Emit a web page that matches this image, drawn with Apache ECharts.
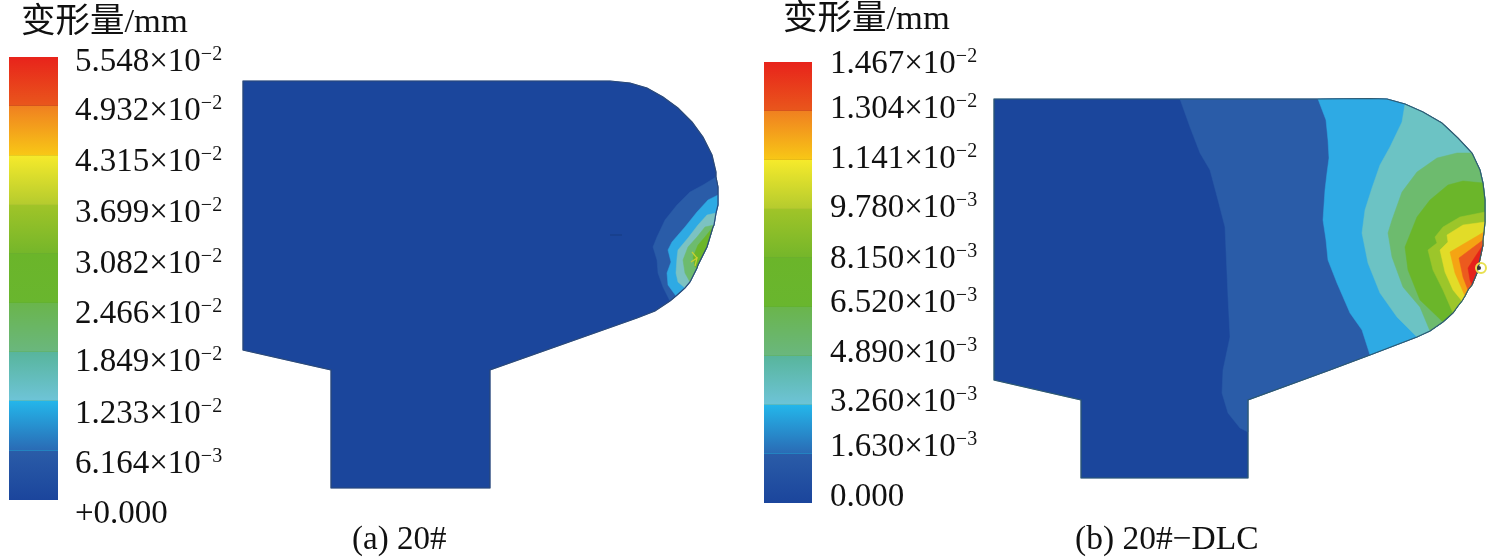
<!DOCTYPE html>
<html><head><meta charset="utf-8">
<style>html,body{margin:0;padding:0;background:#fff}#c{width:1500px;height:559px;filter:blur(0.5px)}</style>
<script src="https://cdn.jsdelivr.net/npm/echarts@6/dist/echarts.min.js"></script>
</head><body><div id="c"></div>
<script>
const FONT='"Liberation Serif","Noto Sans CJK SC",serif';
const titleText='变形量/mm';
const ticksA=['5.548×10|−2','4.932×10|−2','4.315×10|−2','3.699×10|−2','3.082×10|−2','2.466×10|−2','1.849×10|−2','1.233×10|−2','6.164×10|−3','+0.000'];
const ticksB=['1.467×10|−2','1.304×10|−2','1.141×10|−2','9.780×10|−3','8.150×10|−3','6.520×10|−3','4.890×10|−3','3.260×10|−3','1.630×10|−3','0.000'];
const tickYA=[62,111,162,213,264,314,362,414,464,514];
const tickYB=[64,109,159,208,259,303,353,402,447,497];
const bandColors=[['#e8231b','#e9571c'],['#f08020','#f8c816'],['#f6ea2b','#b4cb2e'],['#a0c428','#74b62a'],['#6bb52a','#69b62e'],['#6ab54c','#6ab77e'],['#58b59c','#6ec4d8'],['#24b6ea','#2a6ab4'],['#2a5ca8','#1b459c']];
const bandLineColors=['#c4501e','#d8b018','#a8c030','#62aa30','#5fae30','#5aae60','#4ab0a8','#1c9ccc','#2a55a0'];
const barYA=[57,106,155.5,205,254,303,352,401,451,500];
const barYB=[62,111,160,209,258,307,356,405,454,503];
const barXA=[9,58];
const barXB=[764,812];
const outlineA=[[243,81],[610,81],[630,83],[647,88],[663,97],[678,108],[692,122],[703,137],[712,155],[716,172],[716,177],[718,187],[718,195],[718,205],[716,213],[714,225],[713,227],[707,247],[698,265],[697,268],[690,282],[685,288],[676,296],[670,301],[655,311],[637,318],[490,370],[490,488],[331,488],[331,370],[243,350]];
const contourA1=[[716,177],[703,185],[690,192],[677,205],[665,220],[657,237],[653,247],[657,260],[658,273],[663,287],[670,301]];
const contourA2=[[718,195],[708,200],[697,212],[685,227],[672,242],[668,250],[671,262],[667,273],[668,285],[676,296]];
const contourA3=[[716,213],[707,215],[698,225],[688,238],[678,250],[677,258],[676,273],[678,282],[685,288]];
const contourA4=[[714,225],[705,227],[697,237],[688,247],[683,260],[685,273],[690,282]];
const contourA5=[[713,227],[705,237],[698,245],[693,257],[695,267],[697,268]];
const outlineB=[[994,99],[1180,99],[1318,99],[1370,98.5],[1387,99],[1405,104],[1423,112],[1442,123],[1458,138],[1472,153],[1480,170],[1483,183],[1485,200],[1485,212],[1485,222],[1484,232],[1483,240],[1483,245],[1477,273],[1472,285],[1468,290],[1465,296],[1462,301],[1458,306],[1453,313],[1443,322],[1430,331],[1417,337],[1370,355],[1330,370],[1248,400],[1248,432],[1248,478],[1081,478],[1081,400],[994,380]];
const contourB1=[[1180,99],[1190,127],[1200,153],[1210,170],[1218,200],[1225,227],[1228,297],[1230,337],[1223,370],[1222,393],[1228,413],[1240,428],[1248,432]];
const contourB2=[[1318,99],[1326,120],[1328,140],[1329,158],[1327,173],[1325,190],[1323,220],[1326,240],[1328,260],[1337,283],[1350,313],[1362,330],[1370,355]];
const contourB3=[[1405,104],[1402,122],[1390,147],[1380,165],[1372,188],[1365,210],[1362,233],[1368,263],[1380,293],[1397,317],[1417,337]];
const contourB4=[[1472,153],[1457,153],[1437,158],[1417,172],[1402,192],[1392,220],[1388,233],[1392,257],[1403,287],[1420,307],[1430,331]];
const contourB5=[[1483,183],[1463,181],[1448,185],[1430,200],[1417,217],[1405,247],[1408,270],[1420,300],[1443,322]];
const contourB6=[[1485,212],[1460,217],[1443,227],[1435,237],[1437,243],[1428,250],[1433,270],[1443,290],[1453,313]];
const contourB7=[[1485,222],[1463,225],[1447,235],[1448,242],[1440,250],[1445,272],[1453,290],[1462,301]];
const contourB8=[[1484,232],[1467,242],[1450,252],[1455,273],[1465,296]];
const contourB9=[[1483,240],[1459,258],[1463,277],[1468,290]];
const contourB10=[[1483,245],[1475,257],[1468,268],[1470,280],[1472,285]];
const baseBlue='#1b469c';
const colorsA=['#2a5ca8','#2eaae4','#7cc2c2','#6dbb6e','#6bb62a'];
const colorsB=['#2a5ca8','#2eaae4','#6cc3c4','#6dbb6e','#6bb62a','#9cc62a','#e2dc28','#f5a413','#ec5a1e','#e5221a'];
const contoursA=[contourA1,contourA2,contourA3,contourA4,contourA5];
const contoursB=[contourB1,contourB2,contourB3,contourB4,contourB5,contourB6,contourB7,contourB8,contourB9,contourB10];
const markA=[[610,235],[622,235]];
const starA=[[692,252],[697,258],[691,262],[697,258],[695,266]];
const markB=[1481,268];

function nearest(o,p){let b=0,d=1e9;o.forEach((q,i)=>{const e=(q[0]-p[0])**2+(q[1]-p[1])**2;if(e<d){d=e;b=i;}});return b;}
function region(o,c){const a=nearest(o,c[0]),b=nearest(o,c[c.length-1]);return c.concat(o.slice(a+1,b).reverse());}
const polys=[];
polys.push({pts:outlineA,fill:baseBlue});
contoursA.forEach((c,i)=>polys.push({pts:region(outlineA,c),fill:colorsA[i]}));
polys.push({pts:outlineB,fill:baseBlue});
contoursB.forEach((c,i)=>polys.push({pts:region(outlineB,c),fill:colorsB[i]}));

const bars=[];
[[barXA,barYA],[barXB,barYB]].forEach(([x,y])=>{for(let i=0;i<9;i++)bars.push({x0:x[0],x1:x[1],y0:y[i],y1:y[i+1],c:bandColors[i],l:bandLineColors[i],last:i===8});});

const texts=[];
const rich={m:{fontSize:33,fontFamily:FONT,color:'#111',lineHeight:40},s:{fontSize:20,fontFamily:FONT,color:'#111',padding:[0,0,15,0],lineHeight:40}};
function tk(t){const p=t.split('|');return p.length>1?`{m|${p[0]}}{s|${p[1]}}`:`{m|${p[0]}}`;}
ticksA.forEach((t,i)=>texts.push({x:75,y:tickYA[i],t:tk(t),rich}));
ticksB.forEach((t,i)=>texts.push({x:830,y:tickYB[i],t:tk(t),rich}));
texts.push({x:21,y:23,t:titleText,size:34.5});
texts.push({x:783,y:20,t:titleText,size:34.5});
texts.push({x:352,y:540,t:'(a) 20#',size:33});
texts.push({x:1075,y:540,t:'(b) 20#−DLC',size:33.5});

const chart=echarts.init(document.getElementById('c'),null,{renderer:'canvas'});
const idx=a=>a.map((_,i)=>[i]);
chart.setOption({
 animation:false,
 grid:{left:0,right:0,top:0,bottom:0},
 xAxis:{type:'value',min:0,max:1500,show:false},
 yAxis:{type:'value',min:0,max:559,inverse:true,show:false},
 series:[
 {type:'custom',coordinateSystem:'cartesian2d',clip:false,data:idx(polys),silent:true,
  renderItem:(p,api)=>{const g=polys[p.dataIndex];return{type:'polygon',shape:{points:g.pts.map(q=>api.coord(q))},style:{fill:g.fill,stroke:g.fill,lineWidth:0.5}};}},
 {type:'custom',coordinateSystem:'cartesian2d',clip:false,data:[[0]],silent:true,
  renderItem:(p,api)=>({type:'group',children:[
   {type:'polygon',shape:{points:outlineA.map(q=>api.coord(q))},style:{fill:'none',stroke:'#2c4a78',lineWidth:1.2}},
   {type:'polygon',shape:{points:outlineB.map(q=>api.coord(q))},style:{fill:'none',stroke:'#2f5a70',lineWidth:1.2}},
   {type:'polyline',shape:{points:markA.map(q=>api.coord(q))},style:{fill:'none',stroke:'#173a80',lineWidth:1}},
   {type:'polyline',shape:{points:starA.map(q=>api.coord(q))},style:{fill:'none',stroke:'#c8d030',lineWidth:1.2}},
   {type:'circle',shape:{cx:api.coord(markB)[0],cy:api.coord(markB)[1],r:5},style:{fill:'none',stroke:'#e8e050',lineWidth:2}},
   {type:'circle',shape:{cx:api.coord(markB)[0]-2,cy:api.coord(markB)[1],r:2},style:{fill:'#333'}}
  ]})},
 {type:'custom',coordinateSystem:'cartesian2d',clip:false,data:idx(bars),silent:true,
  renderItem:(p,api)=>{const b=bars[p.dataIndex];const a=api.coord([b.x0,b.y0]),c=api.coord([b.x1,b.y1]);
   const ch=[{type:'rect',shape:{x:a[0],y:a[1],width:c[0]-a[0],height:c[1]-a[1]},style:{fill:new echarts.graphic.LinearGradient(0,0,0,1,[{offset:0,color:b.c[0]},{offset:1,color:b.c[1]}])}}];
   if(!b.last)ch.push({type:'line',shape:{x1:a[0],y1:c[1],x2:c[0],y2:c[1]},style:{stroke:b.l,lineWidth:1}});
   return{type:'group',children:ch};}},
 {type:'custom',coordinateSystem:'cartesian2d',clip:false,data:idx(texts),silent:true,
  renderItem:(p,api)=>{const t=texts[p.dataIndex];const q=api.coord([t.x,t.y]);
   const st={x:q[0],y:q[1],text:t.t,textAlign:'left',textVerticalAlign:'middle',verticalAlign:'middle',fill:'#111',fontFamily:FONT,fontSize:t.size||33};
   if(t.rich)st.rich=t.rich;
   return{type:'text',style:st};}}
 ]
});
</script></body></html>
